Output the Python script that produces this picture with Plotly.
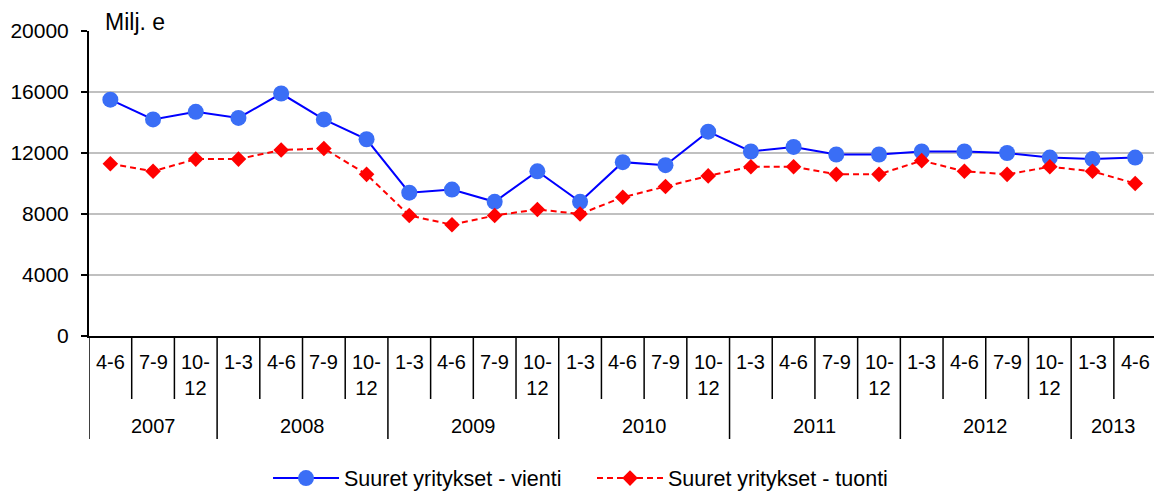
import plotly.graph_objects as go

# ---- data ----
years = ["2007", "2007", "2007",
         "2008", "2008", "2008", "2008",
         "2009", "2009", "2009", "2009",
         "2010", "2010", "2010", "2010",
         "2011", "2011", "2011", "2011",
         "2012", "2012", "2012", "2012",
         "2013", "2013"]
quarters = ["4-6", "7-9", "10-12",
            "1-3", "4-6", "7-9", "10-12",
            "1-3", "4-6", "7-9", "10-12",
            "1-3", "4-6", "7-9", "10-12",
            "1-3", "4-6", "7-9", "10-12",
            "1-3", "4-6", "7-9", "10-12",
            "1-3", "4-6"]
vienti = [15500, 14200, 14700,
          14300, 15900, 14200, 12900,
          9400, 9600, 8800, 10800,
          8800, 11400, 11200, 13400,
          12100, 12400, 11900, 11900,
          12100, 12100, 12000, 11700,
          11600, 11700]
tuonti = [11300, 10800, 11600,
          11600, 12200, 12300, 10600,
          7900, 7300, 7900, 8300,
          8000, 9100, 9800, 10500,
          11100, 11100, 10600, 10600,
          11500, 10800, 10600, 11100,
          10800, 10000]
y_ticks = [0, 4000, 8000, 12000, 16000, 20000]
y_tick_text = ["0", "4000", "8000", "12000", "16000", "20000"]
name_vienti = "Suuret yritykset - vienti"
name_tuonti = "Suuret yritykset - tuonti"
unit_label = "Milj. e"

FONT = "Liberation Sans, Arial, sans-serif"
cats = [f"{y} {q}" for y, q in zip(years, quarters)]
n = len(cats)

fig = go.Figure()
fig.add_trace(go.Scatter(
    x=cats, y=vienti, name=name_vienti, mode="lines+markers",
    line=dict(color="#0000FF", width=2),
    marker=dict(symbol="circle", size=16, color="#3A6EF6"),
))
fig.add_trace(go.Scatter(
    x=cats, y=tuonti, name=name_tuonti, mode="lines+markers",
    line=dict(color="#FF0000", width=2, dash="6px,4px"),
    marker=dict(symbol="diamond", size=12, color="#FF0000"),
))

annotations = []
shapes = []
# quarter labels
for c, q in zip(cats, quarters):
    annotations.append(dict(
        x=c, xref="x", y=0, yref="paper", yanchor="top", xanchor="center",
        yshift=-13, text=q.replace("10-12", "10-<br>12"), showarrow=False,
        font=dict(family=FONT, size=20, color="black"), align="center"))
# year labels and dividers
groups = []
for i, y in enumerate(years):
    if not groups or groups[-1][0] != y:
        groups.append([y, i, i])
    else:
        groups[-1][2] = i
for y, a, b in groups:
    annotations.append(dict(
        x=(a + b) / 2, xref="x", y=0, yref="paper", yanchor="top",
        xanchor="center", yshift=-77, text=y, showarrow=False,
        font=dict(family=FONT, size=20, color="black")))
    shapes.append(dict(type="line", xref="x", x0=a - 0.5, x1=a - 0.5,
                       yref="paper", ysizemode="pixel", yanchor=0,
                       y0=0, y1=-103, line=dict(color="black", width=1.5)))
year_starts = {a for _, a, _ in groups}
for i in range(1, n):
    if i not in year_starts:
        shapes.append(dict(type="line", xref="x", x0=i - 0.5, x1=i - 0.5,
                           yref="paper", ysizemode="pixel", yanchor=0,
                           y0=0, y1=-63, line=dict(color="black", width=1.5)))
annotations.append(dict(
    x=0.013, xref="paper", y=1, yref="paper", xanchor="left", yanchor="bottom",
    yshift=-6, text=unit_label, showarrow=False,
    font=dict(family=FONT, size=23, color="black")))

fig.update_layout(
    width=1154, height=494,
    margin=dict(l=89, r=0, t=31, b=158, autoexpand=False),
    paper_bgcolor="white", plot_bgcolor="white",
    font=dict(family=FONT, size=20, color="black"),
    showlegend=True,
    legend=dict(orientation="h", x=0.1681, xanchor="left", y=-0.466,
                yanchor="middle", font=dict(family=FONT, size=21.5, color="black"),
                itemwidth=66, entrywidth=243, entrywidthmode="pixels",
                bgcolor="rgba(0,0,0,0)"),
    annotations=annotations, shapes=shapes,
)
fig.update_xaxes(type="category", range=[-0.5, n - 0.56], showticklabels=False,
                 showgrid=False, showline=True, linecolor="black", linewidth=2,
                 ticks="", zeroline=False, automargin=False)
fig.update_yaxes(range=[0, 20000], tickvals=y_ticks, ticktext=y_tick_text,
                 showgrid=True, automargin=False,
                 gridcolor="#C0C0C0", gridwidth=2, showline=True,
                 linecolor="black", linewidth=2, ticks="outside", ticklen=6,
                 tickwidth=1.5, tickcolor="black", zeroline=False,
                 ticklabelstandoff=8,
                 tickfont=dict(family=FONT, size=21, color="black"))

fig.write_html("out.html",
               config={"displayModeBar": False},
               post_script="document.body.style.margin='0';"
                           "document.body.style.overflow='hidden';")
